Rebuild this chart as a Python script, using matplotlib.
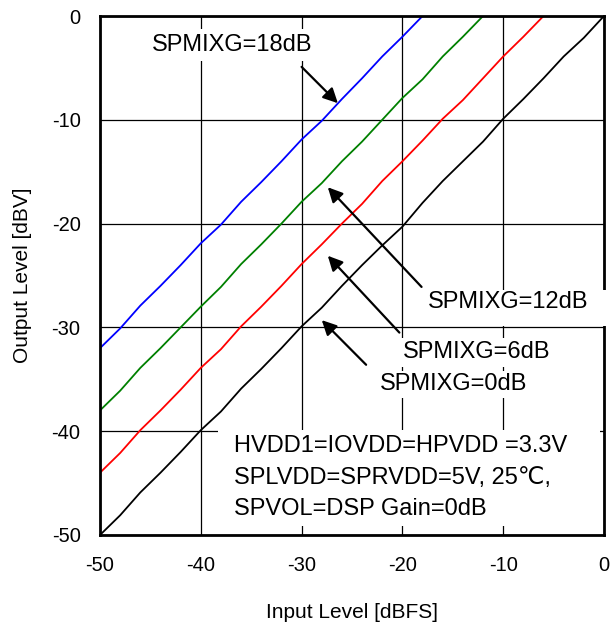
import matplotlib.pyplot as plt
from matplotlib.patches import Rectangle

plt.rcParams['font.family'] = ['Liberation Sans', 'DejaVu Sans']
plt.rcParams['axes.unicode_minus'] = False

# === 数据：输入电平 (dBFS) 与各 SPMIXG 增益下的输出电平 (dBV) ===
x_in = [-50, -48, -46, -44, -42, -40, -38, -36, -34, -32, -30, -28, -26,
        -24, -22, -20, -18, -16, -14, -12, -10, -8, -6, -4, -2, 0]
out_0db = [-50.0, -48.1, -45.9, -44.0, -42.0, -39.9, -38.1, -35.9, -34.0,
           -32.0, -29.9, -28.1, -26.0, -24.0, -22.1, -20.3, -18.0, -15.9,
           -14.0, -12.1, -9.9, -8.0, -6.0, -3.9, -2.1, 0.0]
out_6db = [-44.0, -42.1, -39.9, -38.0, -36.0, -33.9, -32.1, -29.9, -28.0,
           -26.0, -23.9, -22.0, -20.0, -18.1, -15.9, -14.0, -12.0, -9.9,
           -8.1, -6.0, -3.9, -2.0, 0.0]
out_12db = [-38.0, -36.1, -33.9, -32.0, -30.0, -28.0, -26.1, -23.9, -22.0,
            -20.0, -17.9, -16.1, -14.0, -12.1, -10.0, -7.9, -6.1, -3.9,
            -2.0, 0.0]
out_18db = [-32.0, -30.1, -27.9, -26.0, -24.0, -21.9, -20.1, -17.9, -16.0,
            -14.0, -11.9, -10.1, -8.0, -6.0, -3.9, -2.0, 0.0]

series = [(out_0db, 'black'), (out_6db, 'red'), (out_12db, 'green'), (out_18db, 'blue')]
ticks = [-50, -40, -30, -20, -10, 0]

# === 绘图 ===
fig = plt.figure(figsize=(6.12, 6.30), dpi=100)
ax = fig.add_axes([100 / 612, 1 - 535 / 630, 504 / 612, 519 / 630])

for vals, col in series:
    ax.plot(x_in[:len(vals)], vals, color=col, lw=1.3, zorder=2)

ax.set_xlim(-50, 0)
ax.set_ylim(-50, 0)
ax.set_xticks(ticks)
ax.set_yticks(ticks)
ax.tick_params(length=0, labelsize=14.5)
ax.tick_params(axis='x', pad=15)
ax.tick_params(axis='y', pad=14)
ax.grid(True, color='black', lw=0.9)
ax.set_axisbelow(True)
for sp in ax.spines.values():
    sp.set_linewidth(2)

ax.set_xlabel('Input Level [dBFS]', fontsize=15, labelpad=20)
ax.set_ylabel('Output Level [dBV]', fontsize=15, labelpad=14)

# 标注
fs = 17
arrow = dict(arrowstyle='-|>', color='black', lw=1.6, mutation_scale=22,
             shrinkA=0, shrinkB=0)

ax.annotate('', xy=(-26.4, -8.4), xytext=(-30.0, -4.9), arrowprops=arrow, zorder=3)
ax.annotate('', xy=(-27.4, -16.5), xytext=(-18.1, -26.1), arrowprops=arrow, zorder=3)
ax.annotate('', xy=(-27.4, -23.1), xytext=(-20.3, -30.5), arrowprops=arrow, zorder=3)
ax.annotate('', xy=(-28.0, -29.3), xytext=(-23.6, -33.6), arrowprops=arrow, zorder=3)

ax.text(-36.9, -2.8, 'SPMIXG=18dB', fontsize=fs, ha='center', va='center',
        bbox=dict(boxstyle='square,pad=0.2', fc='white', ec='none'), zorder=5)

# 12dB 标签的白底盖住了右边框
ax.add_patch(Rectangle((-17.9, -29.85), 18.5, 3.45, fc='white', ec='none',
                       zorder=4, clip_on=False))
ax.text(-17.5, -27.6, 'SPMIXG=12dB', fontsize=fs, ha='left', va='center', zorder=5)
ax.text(-20.0, -32.4, 'SPMIXG=6dB', fontsize=fs, ha='left', va='center',
        bbox=dict(boxstyle='square,pad=0.15', fc='white', ec='none'), zorder=5)
ax.text(-22.2, -35.5, 'SPMIXG=0dB', fontsize=fs, ha='left', va='center',
        bbox=dict(boxstyle='square,pad=0.1', fc='white', ec='none'), zorder=5)

# 条件说明框
ax.add_patch(Rectangle((-38.3, -49.1), 37.9, 9.2, fc='white', ec='none', zorder=1.5))
ax.text(-36.7, -40.4, 'HVDD1=IOVDD=HPVDD =3.3V\nSPLVDD=SPRVDD=5V, 25\u2103,\nSPVOL=DSP Gain=0dB',
        fontsize=fs, ha='left', va='top', linespacing=1.55, zorder=5)

plt.savefig('out.png', dpi=100)
plt.close()
